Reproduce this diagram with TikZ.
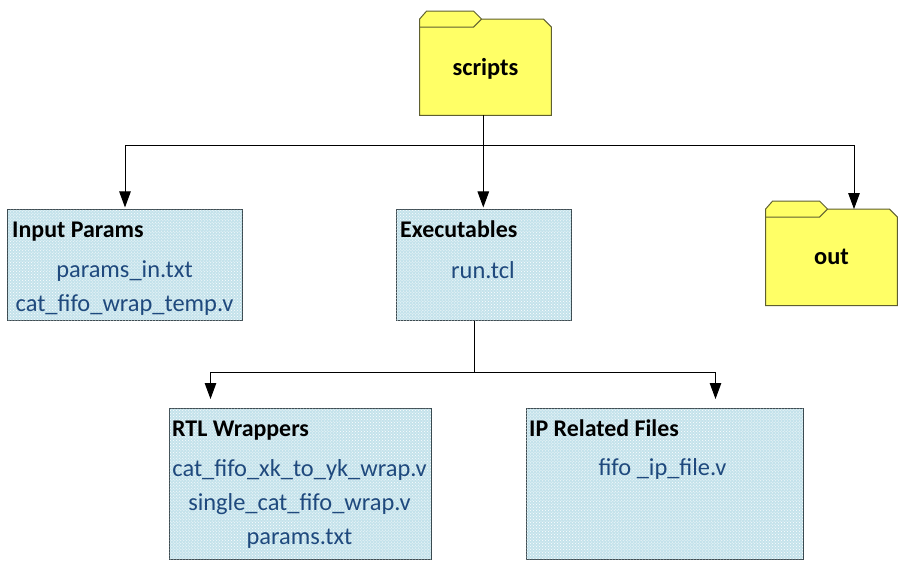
\documentclass[tikz,border=0pt]{standalone}
\usepackage{fontspec}
\setmainfont{Carlito}
\usetikzlibrary{arrows.meta,patterns}
\definecolor{folderfill}{HTML}{FFFF66}
\definecolor{folderline}{HTML}{5F5F30}
\definecolor{boxfill}{HTML}{C4E2EB}
\definecolor{boxline}{HTML}{3A4A50}
\definecolor{itemblue}{HTML}{1F497D}
\tikzset{
  groupbox/.style={draw=boxline,fill=boxfill,line width=1bp,inner sep=0,postaction={pattern=crosshatch dots,pattern color=white}},
  foldernode/.style={inner sep=0,minimum width=131.5bp,minimum height=96bp},
  foldertext/.style={inner sep=0,font=\fontsize{24.5}{28}\selectfont\bfseries},
  grouptitle/.style={anchor=base west,inner sep=0,font=\fontsize{24}{28}\selectfont\bfseries},
  itemtext/.style={inner sep=0,align=center,text=itemblue,font=\fontsize{24.5}{34.5}\selectfont},
  link/.style={draw=black,line width=1bp},
  linkto/.style={link,-{Triangle[length=16bp,width=11.5bp]}}
}
% folder outline drawn round a named node
\newcommand{\folder}[1]{
\draw[draw=folderline,fill=folderfill,line width=1bp,line join=miter] (#1.south west) -- (#1.north west) -- ([xshift=7bp,yshift=8bp]#1.north west) -- ([xshift=54bp,yshift=8bp]#1.north west) -- ([xshift=62bp]#1.north west) -- ([xshift=-8bp]#1.north east) -- ([yshift=-8bp]#1.north east) -- (#1.south east) -- cycle;
\draw[draw=folderline,line width=1bp] ([yshift=-8bp]#1.north west) -- ([xshift=54bp,yshift=-8bp]#1.north west) -- ([xshift=62bp]#1.north west);
}
\begin{document}
\begin{tikzpicture}[x=1bp,y=-1bp]
\path[use as bounding box] (0,0) rectangle (908,566);
% folders
\node[foldernode] (scripts) at (485.5,67.3) {};
\folder{scripts}
\node[foldertext,yshift=-1.5bp] (scriptslabel) at (scripts) {scripts};
\node[foldernode] (out) at (831.5,257.3) {};
\folder{out}
\node[foldertext] (outlabel) at (out) {out};
% boxes
\node[groupbox,minimum width=234bp,minimum height=111.5bp] (input) at (125,265.2) {};
\node[groupbox,minimum width=175bp,minimum height=111.5bp] (exec) at (483.5,265.2) {};
\node[groupbox,minimum width=262bp,minimum height=151bp] (rtl) at (300,483.5) {};
\node[groupbox,minimum width=277bp,minimum height=151bp] (ip) at (664.5,483.5) {};
% titles
\node[grouptitle] (inputtitle) at (12,237.5) {Input Params};
\node[grouptitle] (exectitle) at (400,237.5) {Executables};
\node[grouptitle] (rtltitle) at (172,436.5) {RTL Wrappers};
\node[grouptitle] (iptitle) at (529,436.5) {IP Related Files};
% file lists
\node[itemtext] (inputfiles) at (124.5,288) {params\_in.txt\\cat\_fifo\_wrap\_temp.v};
\node[itemtext] (execfiles) at (483,270) {run.tcl};
\node[itemtext] (rtlfiles) at (299.5,504) {cat\_fifo\_xk\_to\_yk\_wrap.v\\single\_cat\_fifo\_wrap.v\\params.txt};
\node[itemtext] (ipfiles) at (662.5,469) {fifo \_ip\_file.v};
% connectors
\coordinate (topfork) at (483.3,146);
\coordinate (outdrop) at (854,146);
\coordinate (lowfork) at (474.7,372.3);
\coordinate (rtldrop) at (210.5,372.3);
\coordinate (ipdrop) at (715.5,372.3);
\draw[link] (topfork |- scripts.south) -- (topfork);
\draw[linkto,shorten >=1.5bp] (topfork) -| (input.north);
\draw[linkto,shorten >=1.5bp] (topfork) -- (topfork |- exec.north);
\draw[linkto] (topfork) -- (outdrop) -- (outdrop |- out.north);
\draw[link] (lowfork |- exec.south) -- (lowfork);
\draw[linkto,shorten >=8.5bp] (lowfork) -- (rtldrop) -- (rtldrop |- rtl.north);
\draw[linkto,shorten >=8.5bp] (lowfork) -- (ipdrop) -- (ipdrop |- ip.north);
\end{tikzpicture}
\end{document}
